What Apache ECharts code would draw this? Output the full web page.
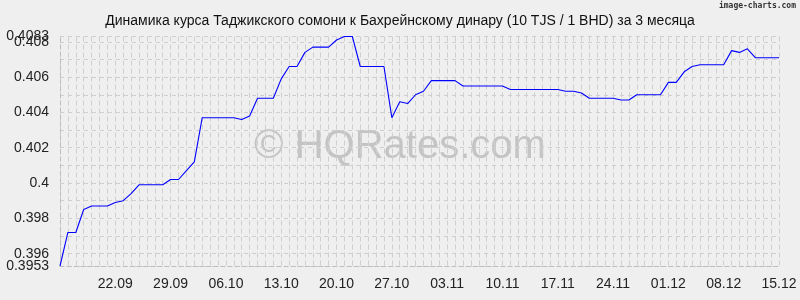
<!DOCTYPE html>
<html>
<head>
<meta charset="utf-8">
<script src="https://cdn.jsdelivr.net/npm/echarts@6/dist/echarts.min.js"></script>
<style>
html,body{margin:0;padding:0;background:#efefef;}
#chart{width:800px;height:300px;}
</style>
</head>
<body>
<div id="chart"></div>
<script>
const titleText = 'Динамика курса Таджикского сомони к Бахрейнскому динару (10 TJS / 1 BHD) за 3 месяца';
const startDay = '15.09';
const tickLabels = ['22.09','29.09','06.10','13.10','20.10','27.10','03.11','10.11','17.11','24.11','01.12','08.12','15.12'];
const yTickValues = [0.396, 0.398, 0.4, 0.402, 0.404, 0.406, 0.408];
const yMin = 0.3953;
const yMax = 0.4083;
const yEndValues = [yMin, yMax];
const values = [
  0.3953, 0.3972, 0.3972, 0.3985, 0.3987, 0.3987, 0.3987, 0.3989, 0.3990, 0.3994,
  0.3999, 0.3999, 0.3999, 0.3999, 0.4002, 0.4002, 0.4007, 0.4012, 0.4037, 0.4037,
  0.4037, 0.4037, 0.4037, 0.4036, 0.4038, 0.4048, 0.4048, 0.4048, 0.4059, 0.4066,
  0.4066, 0.4074, 0.4077, 0.4077, 0.4077, 0.4081, 0.4083, 0.4083, 0.4066, 0.4066,
  0.4066, 0.4066, 0.4037, 0.4046, 0.4045, 0.4050, 0.4052, 0.4058, 0.4058, 0.4058,
  0.4058, 0.4055, 0.4055, 0.4055, 0.4055, 0.4055, 0.4055, 0.4053, 0.4053, 0.4053,
  0.4053, 0.4053, 0.4053, 0.4053, 0.4052, 0.4052, 0.4051, 0.4048, 0.4048, 0.4048,
  0.4048, 0.4047, 0.4047, 0.4050, 0.4050, 0.4050, 0.4050, 0.4057, 0.4057, 0.4063,
  0.4066, 0.4067, 0.4067, 0.4067, 0.4067, 0.4075, 0.4074, 0.4076, 0.4071, 0.4071,
  0.4071, 0.4071
];

// category labels: one per day, from startDay
const categories = (function () {
  const p = startDay.split('.');
  const out = [];
  for (let i = 0; i < values.length; i++) {
    const d = new Date(2023, parseInt(p[1], 10) - 1, parseInt(p[0], 10) + i);
    out.push(String(d.getDate()).padStart(2, '0') + '.' + String(d.getMonth() + 1).padStart(2, '0'));
  }
  return out;
})();

const gridColor = '#cfcfcf';
const font = 'Liberation Sans';
const labelStyle = {color: '#222', fontSize: 14, fontFamily: font, margin: 11};

const chart = echarts.init(document.getElementById('chart'), null, {renderer: 'canvas'});
chart.setOption({
  animation: false,
  backgroundColor: '#efefef',
  title: {
    text: titleText,
    left: 'center',
    top: 9,
    textStyle: {fontFamily: font, fontSize: 14, fontWeight: 'normal', color: '#111'}
  },
  graphic: [
    {
      type: 'text', right: 4, top: 2, z: 100,
      style: {text: 'image-charts.com', font: 'bold 8px "DejaVu Sans Mono"', fill: '#333'}
    },
    {
      type: 'text', x: 400, y: 147, z: -1,
      style: {text: '© HQRates.com', font: '40px "Liberation Sans"', fill: '#c4c4c4', align: 'center', verticalAlign: 'middle'}
    }
  ],
  grid: {left: 60, right: 21, top: 36.5, bottom: 34},
  xAxis: {
    type: 'category',
    data: categories,
    boundaryGap: false,
    axisLine: {show: true, lineStyle: {color: '#bdbdbd', type: [4, 3]}},
    axisTick: {show: false},
    axisLabel: Object.assign({
      interval: function (i, v) { return tickLabels.indexOf(v) >= 0; }
    }, labelStyle),
    splitLine: {show: true, interval: 0, lineStyle: {color: gridColor, type: [5, 3], width: 1}}
  },
  yAxis: [
    {
      type: 'value', min: yMin, max: yMax, position: 'left',
      axisLine: {show: true, lineStyle: {color: '#bdbdbd', type: [4, 3]}},
      axisTick: {show: false},
      axisLabel: Object.assign({customValues: yTickValues, showMinLabel: true, showMaxLabel: true}, labelStyle),
      splitLine: {show: false}
    },
    {
      type: 'value', min: yMin, max: yMax, splitNumber: 13, position: 'left',
      axisLine: {show: false}, axisTick: {show: false}, axisLabel: {show: false},
      splitLine: {show: true, lineStyle: {color: gridColor, type: [4, 4], width: 1}}
    },
    {
      type: 'value', min: yMin, max: yMax, position: 'left', offset: 0,
      axisLine: {show: false}, axisTick: {show: false},
      axisLabel: Object.assign({customValues: yEndValues, showMinLabel: true, showMaxLabel: true}, labelStyle),
      splitLine: {show: false}
    }
  ],
  series: [{
    type: 'line',
    data: values,
    yAxisIndex: 0,
    showSymbol: false,
    symbol: 'none',
    lineStyle: {color: '#0000ff', width: 1.1},
    emphasis: {disabled: true}
  }]
});
</script>
</body>
</html>
